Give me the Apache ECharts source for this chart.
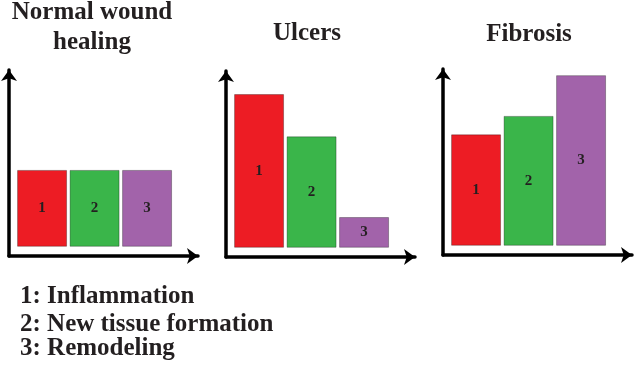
<!DOCTYPE html>
<html>
<head>
<meta charset="utf-8">
<script src="https://cdn.jsdelivr.net/npm/echarts@6/dist/echarts.min.js"></script>
<style>
  html, body { margin: 0; padding: 0; background: #fff; }
  #chart { width: 641px; height: 376px; }
</style>
</head>
<body>
<div id="chart"></div>
<script>
// phases shown in every panel
const stages = ['1', '2', '3'];
const stageNames = ['1: Inflammation', '2: New tissue formation', '3: Remodeling'];
const stageColors = ['#ED1C24', '#3AB54A', '#A263AA'];

// relative level of each phase (normal = 1)
const panelTitles = [['Normal wound', 'healing'], ['Ulcers'], ['Fibrosis']];
const normalHealing = [1.0, 1.0, 1.0];
const ulcers = [2.0, 1.45, 0.4];
const fibrosis = [1.45, 1.69, 2.22];
const panelValues = [normalHealing, ulcers, fibrosis];

// layout of the three small panels
const panels = [
  { left: 9, top: 70, titleX: 92, titleY: [13, 43] },
  { left: 226, top: 71, titleX: 307, titleY: [34] },
  { left: 443, top: 69, titleX: 529, titleY: [35] }
];

const serif = 'Liberation Serif';

const axisBase = {
  type: 'value',
  axisLabel: { show: false },
  axisTick: { show: false },
  splitLine: { show: false },
  axisLine: {
    show: true,
    onZero: false,
    symbol: ['none', 'arrow'],
    symbolSize: [12, 11],
    lineStyle: { color: '#000', width: 3.5 }
  }
};

const grids = [], xAxes = [], yAxes = [], series = [], graphics = [];

panels.forEach((p, i) => {
  grids.push({ left: p.left, top: p.top, width: 189, height: 186 });
  xAxes.push(Object.assign({}, axisBase, { gridIndex: i, min: 0.37, max: 3.97 }));
  yAxes.push(Object.assign({}, axisBase, { gridIndex: i, min: -0.12, max: 2.3 }));
  series.push({
    type: 'bar',
    xAxisIndex: i,
    yAxisIndex: i,
    barWidth: 50,
    data: panelValues[i].map((v, k) => ({
      value: [k + 1, v],
      itemStyle: { color: stageColors[k], borderColor: 'rgba(0,0,0,0.3)', borderWidth: 1 }
    })),
    label: {
      show: true,
      position: 'inside',
      formatter: (d) => stages[d.dataIndex],
      color: '#231F20',
      fontFamily: serif,
      fontWeight: 'bold',
      fontSize: 15
    },
    silent: true
  });
  panelTitles[i].forEach((line, j) => {
    graphics.push({
      type: 'text',
      x: p.titleX,
      y: p.titleY[j],
      style: {
        text: line,
        align: 'center',
        verticalAlign: 'middle',
        fontFamily: serif,
        fontWeight: 'bold',
        fontSize: 25,
        fill: '#231F20'
      }
    });
  });
});

// key under the panels
const keyY = [297, 325, 349];
stageNames.forEach((name, k) => {
  graphics.push({
    type: 'text',
    x: 20,
    y: keyY[k],
    style: {
      text: name,
      align: 'left',
      verticalAlign: 'middle',
      fontFamily: serif,
      fontWeight: 'bold',
      fontSize: 25,
      fill: '#231F20'
    }
  });
});

const chart = echarts.init(document.getElementById('chart'));
chart.setOption({
  animation: false,
  grid: grids,
  xAxis: xAxes,
  yAxis: yAxes,
  series: series,
  graphic: graphics
});
</script>
</body>
</html>
